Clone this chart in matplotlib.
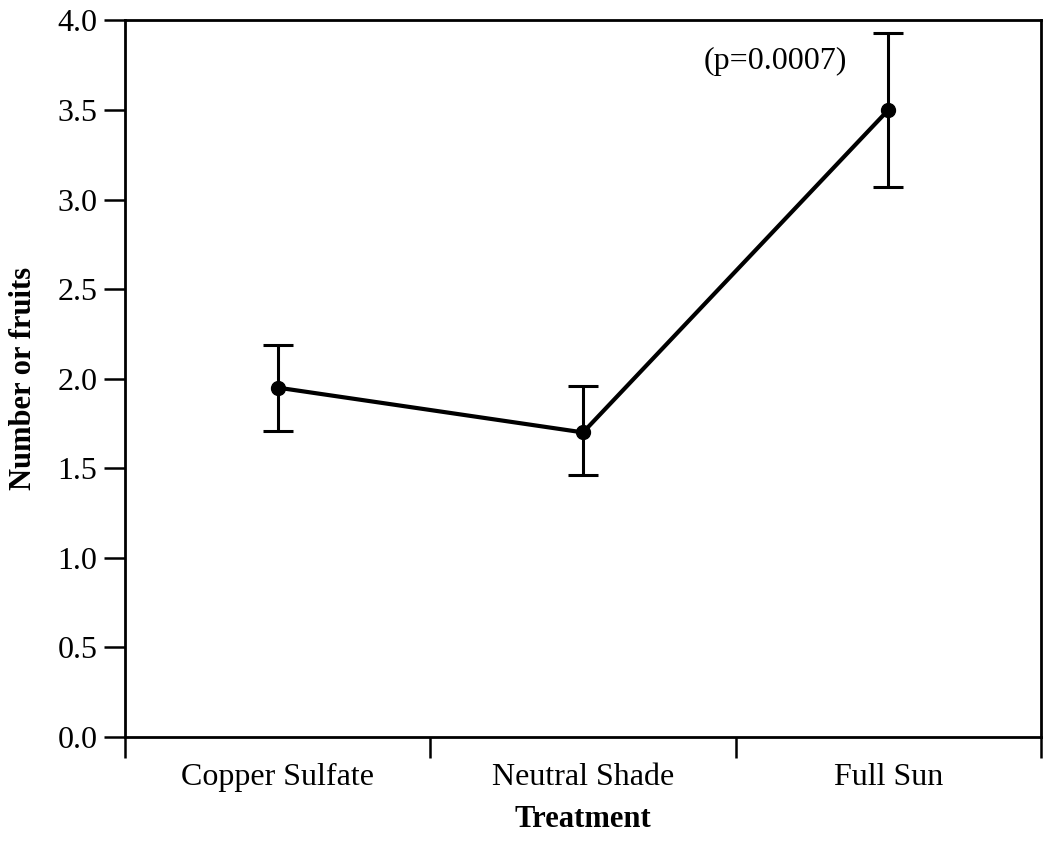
import numpy as np
import matplotlib
matplotlib.use('Agg')
import matplotlib.pyplot as plt

# Mean number of fruits per treatment, with error bar ends
treatments = ['Copper Sulfate', 'Neutral Shade', 'Full Sun']
means = [1.95, 1.70, 3.50]
err_low = [1.71, 1.46, 3.07]
err_high = [2.19, 1.96, 3.93]
y_ticks = [0.0, 0.5, 1.0, 1.5, 2.0, 2.5, 3.0, 3.5, 4.0]
p_label = '(p=0.0007)'

plt.rcParams['font.family'] = ['Liberation Serif', 'DejaVu Serif']

fig = plt.figure(figsize=(10.43, 8.5), dpi=100)
ax = fig.add_axes([0.12, 0.133, 0.878, 0.843])

x = np.arange(len(treatments))
means = np.array(means)
yerr = [means - np.array(err_low), np.array(err_high) - means]

ax.errorbar(x, means, yerr=yerr, fmt='none', ecolor='k', elinewidth=2.2,
            capsize=11, capthick=2.2)
ax.plot(x, means, '-', color='k', linewidth=3, marker='o', markersize=10)

ax.set_xlim(-0.5, 2.5)
ax.set_ylim(0, 4)
ax.set_yticks(y_ticks)
ax.set_yticklabels(['%.1f' % v for v in y_ticks])
ax.set_xticks(x)
ax.set_xticklabels(treatments)
ax.set_xticks(np.arange(-0.5, 3, 1), minor=True)

ax.tick_params(axis='x', which='major', length=0, pad=19, labelsize=23)
ax.tick_params(axis='x', which='minor', length=15, width=1.8, direction='out')
ax.tick_params(axis='y', length=15, width=1.8, direction='out', pad=5, labelsize=23)

for s in ax.spines.values():
    s.set_linewidth(2)

ax.set_xlabel('Treatment', fontsize=22, fontweight='bold', labelpad=9)
ax.set_ylabel('Number or fruits', fontsize=22, fontweight='bold', labelpad=14)

ax.text(1.63, 3.77, p_label, fontsize=23, ha='center', va='center')

fig.savefig('out.png', dpi=100)
